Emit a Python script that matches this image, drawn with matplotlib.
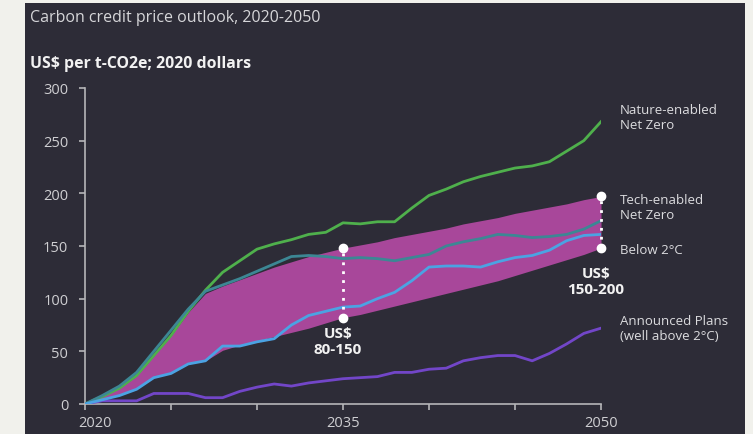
import numpy as np
import matplotlib.pyplot as plt
import matplotlib.patches as patches
import matplotlib.transforms as mtransforms

plt.rcParams['font.family'] = ['Open Sans', 'DejaVu Sans']

# yearly values, US$ per t-CO2e
years = np.arange(2020, 2051)

nature_nz = [0, 7, 15, 27, 46, 65, 88, 108, 125, 136, 147, 152, 156, 161, 163, 172,
             171, 173, 173, 186, 198, 204, 211, 216, 220, 224, 226, 230, 240, 250, 268]
tech_nz = [0, 8, 17, 30, 50, 70, 90, 107, 113, 119, 126, 133, 140, 141, 140, 138,
           139, 138, 136, 139, 142, 150, 154, 157, 161, 160, 158, 159, 161, 166, 174]
below_2c = [0, 4, 8, 14, 25, 29, 38, 41, 55, 55, 59, 62, 75, 84, 88, 92,
            93, 100, 106, 117, 130, 131, 131, 130, 135, 139, 141, 146, 155, 160, 161]
announced = [0, 3, 3, 3, 10, 10, 10, 6, 6, 12, 16, 19, 17, 20, 22, 24,
             25, 26, 30, 30, 33, 34, 41, 44, 46, 46, 41, 48, 57, 67, 72]

# price range band (upper / lower edge)
band_hi = [0, 7, 15, 27, 46, 65, 87, 105, 112, 118, 124, 130, 135, 140, 144, 148,
           151, 154, 158, 161, 164, 167, 171, 174, 177, 181, 184, 187, 190, 194, 197]
band_lo = [0, 4, 8, 14, 25, 29, 38, 41, 51, 56, 60, 64, 68, 72, 77, 82,
           85, 89, 93, 97, 101, 105, 109, 113, 117, 122, 127, 132, 137, 142, 148]

range_years = [2035, 2050]
range_lo = [82, 148]
range_hi = [148, 197]
range_text = ['US$\n80-150', 'US$\n150-200']

series_labels = ['Nature-enabled\nNet Zero', 'Tech-enabled\nNet Zero',
                 'Below 2\u00b0C', 'Announced Plans\n(well above 2\u00b0C)']

bg = '#2d2c37'
fig = plt.figure(figsize=(7.53, 4.35), dpi=100)
fig.patch.set_facecolor('#f1f1ec')
W, H = 753.0, 435.0
fig.patches.append(patches.Rectangle((25 / W, 0), 720 / W, 431 / H,
                                     transform=fig.transFigure,
                                     facecolor=bg, edgecolor='none', zorder=-5))

ax = fig.add_axes([85 / W, 30 / H, 516 / W, 316 / H])
ax.set_zorder(2)
ax.set_facecolor('none')
ax.set_xlim(2020, 2050)
ax.set_ylim(0, 300)

ax.fill_between(years, band_lo, band_hi, color='#a8479a', lw=0, zorder=1)
ax.plot(years, announced, color='#7246c8', lw=2, zorder=3)
ax.plot(years, nature_nz, color='#4fb04c', lw=2, zorder=3)
ax.plot(years, tech_nz, color='#3c8794', lw=2, zorder=3)
ax.plot(years, below_2c, color='#4ba3e3', lw=2, zorder=3)

# dotted range markers + their labels (label gap below lower dot, in data units)
gaps = [8, 17]
for yr, lo, hi, txt, g in zip(range_years, range_lo, range_hi, range_text, gaps):
    ax.plot([yr, yr], [lo, hi], color='white', ls=(0, (1, 2.2)), lw=2, zorder=4,
            clip_on=False)
    ax.plot([yr, yr], [lo, hi], 'o', color='white', ms=6, zorder=5, clip_on=False)
    ax.text(yr - 0.3, lo - g, txt, ha='center', va='top', color='#f2f2f2',
            fontsize=11, fontweight='bold', linespacing=1.2)

for s in ['top', 'right']:
    ax.spines[s].set_visible(False)
for s in ['left', 'bottom']:
    ax.spines[s].set_color('#b5b5b8')
    ax.spines[s].set_linewidth(1.2)

ax.set_xticks(range(2020, 2051, 5))
ax.set_xticklabels(['2020', '', '', '2035', '', '', '2050'])
ax.set_yticks(range(0, 301, 50))
ax.tick_params(colors='#b5b5b8', labelcolor='#cfcfd2', labelsize=10.5, length=4, width=1.2)
ax.tick_params(axis='x', pad=4)
ax.tick_params(axis='y', pad=8)
# first year label sits a little right of its tick
lbl = ax.get_xticklabels()[0]
lbl.set_transform(lbl.get_transform() +
                  mtransforms.ScaledTranslation(10 / 100, 0, fig.dpi_scale_trans))

# labels at right of the lines
lab_y = [(620, 118), (620, 208), (620, 251), (620, 329)]
for (px, py), txt in zip(lab_y, series_labels):
    fig.text(px / W, 1 - py / H, txt, ha='left', va='center', color='#dcdcdf',
             fontsize=9.5, linespacing=1.25)

fig.text(30 / W, 1 - 18 / H, 'Carbon credit price outlook, 2020-2050', ha='left', va='center',
         color='#d6d6d9', fontsize=11.5)
fig.text(30 / W, 1 - 64 / H, 'US$ per t-CO2e; 2020 dollars', ha='left', va='center',
         color='#f2f2f2', fontsize=11.4, fontweight='bold')

fig.savefig('out.png', dpi=100, facecolor=fig.get_facecolor())
